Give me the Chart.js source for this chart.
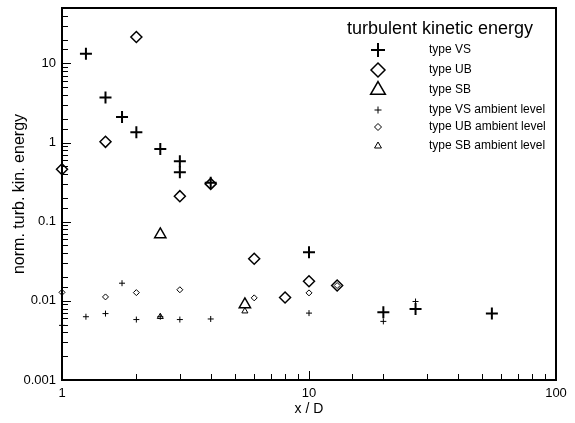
<!DOCTYPE html>
<html>
<head>
<meta charset="utf-8">
<script src="https://cdn.jsdelivr.net/npm/chart.js@4"></script>
<style>
  html, body { margin: 0; padding: 0; background: #fff; }
  canvas { display: block; }
</style>
</head>
<body>
<canvas id="tke" width="575" height="423"></canvas>
<script>
// type VS / UB / SB, plus ambient levels (x = x/D, y = norm. turb. kin. energy)
const vsX = [1.25, 1.5, 1.75, 2, 2.5, 3, 3, 4, 10, 20, 27, 55];
const vsY = [13.2, 3.7, 2.1, 1.35, 0.83, 0.58, 0.42, 0.31, 0.041, 0.0072, 0.0079, 0.0069];

const ubX = [1, 1.5, 2, 3, 4, 6, 8, 10, 13];
const ubY = [0.46, 1.02, 21.5, 0.21, 0.30, 0.034, 0.011, 0.0177, 0.0156];

const sbX = [2.5, 5.5];
const sbY = [0.069, 0.009];

const vsAmbX = [1, 1.25, 1.5, 1.75, 2, 2.5, 3, 4, 10, 20, 27];
const vsAmbY = [0.0049, 0.0063, 0.0069, 0.0167, 0.0058, 0.0063, 0.0058, 0.0059, 0.0070, 0.0055, 0.0098];

const ubAmbX = [1, 1.5, 2, 3, 6, 10, 13];
const ubAmbY = [0.0128, 0.0112, 0.0127, 0.0138, 0.0109, 0.0126, 0.0156];

const sbAmbX = [2.5, 5.5];
const sbAmbY = [0.0063, 0.0074];

const xTickLabels = ["1", "10", "100"];
const yTickLabels = ["0.001", "0.01", "0.1", "1", "10"];

const legendTitle = "turbulent kinetic energy";

const FONT = "'Liberation Sans', Arial, sans-serif";

function pts(xs, ys) {
  return xs.map((x, i) => ({ x: x, y: ys[i] }));
}

function series(label, xs, ys, style, radius, width) {
  return {
    label: label,
    data: pts(xs, ys),
    pointStyle: style,
    pointRadius: radius,
    pointHoverRadius: radius,
    pointBorderWidth: width,
    pointBorderColor: "#000",
    pointBackgroundColor: "rgba(0,0,0,0)",
    borderColor: "#000",
    backgroundColor: "rgba(0,0,0,0)",
    showLine: false,
    clip: false,
  };
}

const datasets = [
  series("type VS", vsX, vsY, "cross", 6, 2),
  series("type UB", ubX, ubY, "rectRot", 5.5, 1.5),
  series("type SB", sbX, sbY, "triangle", 6.5, 1.5),
  series("type VS ambient level", vsAmbX, vsAmbY, "cross", 3, 1),
  series("type UB ambient level", ubAmbX, ubAmbY, "rectRot", 3, 1),
  series("type SB ambient level", sbAmbX, sbAmbY, "triangle", 3.5, 1),
];

function decadeLabel(labels, first) {
  return function (value) {
    const e = Math.log10(value);
    const r = Math.round(e);
    if (Math.abs(e - r) > 1e-6) return "";
    return labels[r - first] || "";
  };
}

// inward tick marks + box frame
const frame = {
  id: "frame",
  afterDraw(chart) {
    const ctx = chart.ctx;
    const a = chart.chartArea;
    const xs = chart.scales.x;
    const ys = chart.scales.y;
    ctx.save();
    ctx.strokeStyle = "#000";
    ctx.lineWidth = 1;
    xs.ticks.forEach((t) => {
      const p = Math.round(xs.getPixelForValue(t.value)) + 0.5;
      const e = Math.log10(t.value);
      const len = Math.abs(e - Math.round(e)) < 1e-6 ? 9 : 6;
      ctx.beginPath();
      ctx.moveTo(p, a.bottom);
      ctx.lineTo(p, a.bottom - len);
      ctx.stroke();
    });
    ys.ticks.forEach((t) => {
      const p = Math.round(ys.getPixelForValue(t.value)) + 0.5;
      const e = Math.log10(t.value);
      const len = Math.abs(e - Math.round(e)) < 1e-6 ? 9 : 6;
      ctx.beginPath();
      ctx.moveTo(a.left, p);
      ctx.lineTo(a.left + len, p);
      ctx.stroke();
    });
    ctx.lineWidth = 2;
    ctx.strokeRect(a.left, a.top, a.right - a.left, a.bottom - a.top);
    ctx.restore();
  },
};

// legend drawn inside the plot, top right
const boxLegend = {
  id: "boxLegend",
  afterDraw(chart) {
    const ctx = chart.ctx;
    const a = chart.chartArea;
    const markX = a.left + 316;
    const textX = a.left + 367;
    const rows = [42, 62, 82, 102, 119, 138];
    const sizes = [7, 7, 8.5, 3.5, 3.5, 4];
    ctx.save();
    ctx.fillStyle = "#000";
    ctx.font = "18px " + FONT;
    ctx.textAlign = "center";
    ctx.textBaseline = "middle";
    ctx.fillText(legendTitle, a.left + 378, a.top + 21);
    ctx.font = "12px " + FONT;
    ctx.textAlign = "left";
    chart.data.datasets.forEach((ds, i) => {
      const y = a.top + rows[i];
      ctx.strokeStyle = "#000";
      ctx.fillStyle = "rgba(0,0,0,0)";
      ctx.lineWidth = ds.pointBorderWidth;
      Chart.helpers.drawPoint(ctx, {
        pointStyle: ds.pointStyle,
        radius: sizes[i],
        rotation: 0,
        borderWidth: ds.pointBorderWidth,
      }, markX, y);
      ctx.fillStyle = "#000";
      ctx.fillText(ds.label, textX, y);
    });
    ctx.restore();
  },
};

new Chart(document.getElementById("tke"), {
  type: "scatter",
  data: { datasets: datasets },
  options: {
    responsive: false,
    devicePixelRatio: 1,
    animation: false,
    events: [],
    layout: { padding: { top: 7, right: 19, left: 0, bottom: 0 } },
    plugins: {
      legend: { display: false },
      tooltip: { enabled: false },
    },
    scales: {
      x: {
        type: "logarithmic",
        min: 1,
        max: 100,
        grid: { display: false, drawTicks: false },
        border: { display: false },
        ticks: {
          autoSkip: false,
          maxRotation: 0,
          padding: 6,
          color: "#000",
          font: { family: FONT, size: 13 },
          callback: decadeLabel(xTickLabels, 0),
        },
        title: {
          display: true,
          text: "x / D",
          color: "#000",
          font: { family: FONT, size: 14 },
          padding: { top: 0, bottom: 5 },
        },
        afterFit(scale) {
          scale.height = 43;
          scale.paddingLeft = 0;
          scale.paddingRight = 0;
        },
      },
      y: {
        type: "logarithmic",
        min: 0.001,
        max: 50,
        grid: { display: false, drawTicks: false },
        border: { display: false },
        ticks: {
          autoSkip: false,
          padding: 6,
          color: "#000",
          font: { family: FONT, size: 13 },
          callback: decadeLabel(yTickLabels, -3),
        },
        title: {
          display: true,
          text: "norm. turb. kin. energy",
          color: "#000",
          font: { family: FONT, size: 16 },
          padding: { top: 10, bottom: 0 },
        },
        afterFit(scale) {
          scale.width = 62;
          scale.paddingTop = 0;
          scale.paddingBottom = 0;
        },
      },
    },
  },
  plugins: [frame, boxLegend],
});
</script>
</body>
</html>
